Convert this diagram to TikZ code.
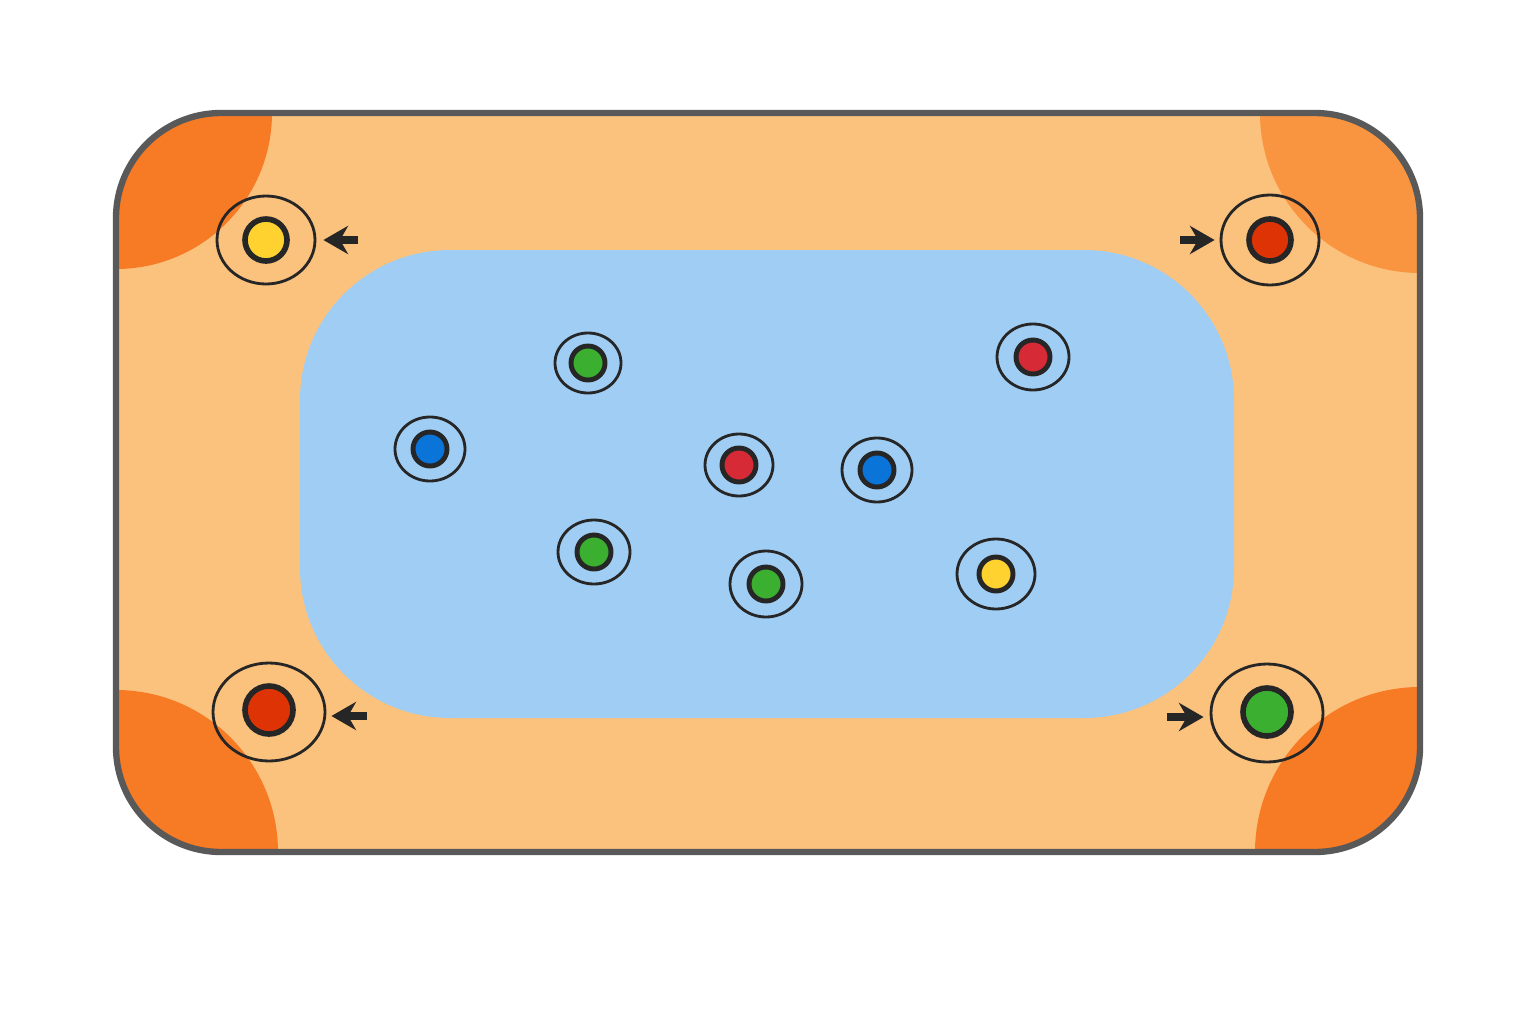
\documentclass[tikz,border=0pt]{standalone}
\usetikzlibrary{arrows.meta,shapes.geometric}
\definecolor{field}{HTML}{FBC27E}
\definecolor{corner}{HTML}{F77A25}
\definecolor{cornerlt}{HTML}{F99540}
\definecolor{pool}{HTML}{A0CDF3}
\definecolor{tkgreen}{HTML}{3BB030}
\definecolor{tkblue}{HTML}{0A74D9}
\definecolor{tkred}{HTML}{D62B36}
\definecolor{tkorange}{HTML}{DD3305}
\definecolor{tkyellow}{HTML}{FFD230}
\tikzset{
  token/.style={circle, draw=black!85, line width=1.6pt, fill=#1, inner sep=0pt},
  ring/.style={ellipse, draw=black!85, line width=0.8pt, inner sep=0pt},
  push/.style={-{Stealth[length=7pt,width=8pt]}, line width=2pt, black!85}
}
\begin{document}
\begin{tikzpicture}[x=0.01cm, y=-0.01cm]
  \useasboundingbox (0,0) rectangle (1536,1024);
  % field
  \begin{scope}
    \clip[rounded corners=1.05cm] (116,113) rectangle (1420,852);
    \fill[field] (116,113) rectangle (1420,852);
    \fill[corner] (116,113) circle (156);
    \fill[cornerlt] (1420,113) circle (160);
    \fill[corner] (116,852) circle (162);
    \fill[corner] (1420,852) circle (165);
  \end{scope}
  \draw[black!65, line width=1.8pt, rounded corners=1.05cm] (116,113) rectangle (1420,852);
  % pool
  \fill[pool, rounded corners=1.5cm] (300,250) rectangle (1234,718);

  % corner tokens
  \node[ring, minimum width=98*0.01cm, minimum height=88*0.01cm] (tlr) at (266,240) {};
  \node[token=tkyellow, minimum size=42*0.01cm] (tl) at (266,240) {};
  \node[ring, minimum width=98*0.01cm, minimum height=90*0.01cm] (trr) at (1270,240) {};
  \node[token=tkorange, minimum size=42*0.01cm] (tr) at (1270,240) {};
  \node[ring, minimum width=112*0.01cm, minimum height=98*0.01cm] (blr) at (269,712) {};
  \node[token=tkorange, minimum size=48*0.01cm] (bl) at (269,710) {};
  \node[ring, minimum width=112*0.01cm, minimum height=98*0.01cm] (brr) at (1267,713) {};
  \node[token=tkgreen, minimum size=48*0.01cm] (br) at (1267,712) {};

  \coordinate (atl) at (358,240);
  \coordinate (atr) at (1180,240);
  \coordinate (abl) at (367,716);
  \coordinate (abr) at (1167,717);
  \draw[push, shorten >=0.07cm] (atl) -- (tlr.east);
  \draw[push, shorten >=0.05cm] (atr) -- (trr.west);
  \draw[push, shorten >=0.05cm] (abl) -- (abl -| blr.east);
  \draw[push, shorten >=0.06cm] (abr) -- (abr -| brr.west);

  % pool tokens
  \foreach \x/\y/\c/\w/\h/\n in {588/363/tkgreen/66/60/ga, 430/449/tkblue/70/64/ba,
      739/465/tkred/68/62/ra, 877/470/tkblue/70/64/bb, 1033/357/tkred/72/66/rb,
      594/552/tkgreen/72/64/gb, 766/584/tkgreen/72/66/gc, 996/574/tkyellow/78/70/ya} {
    \node[ring, minimum width=\w*0.01cm, minimum height=\h*0.01cm] (\n r) at (\x,\y) {};
    \node[token=\c, minimum size=34*0.01cm, line width=1.4pt] (\n) at (\x,\y) {};
  }
\end{tikzpicture}
\end{document}
